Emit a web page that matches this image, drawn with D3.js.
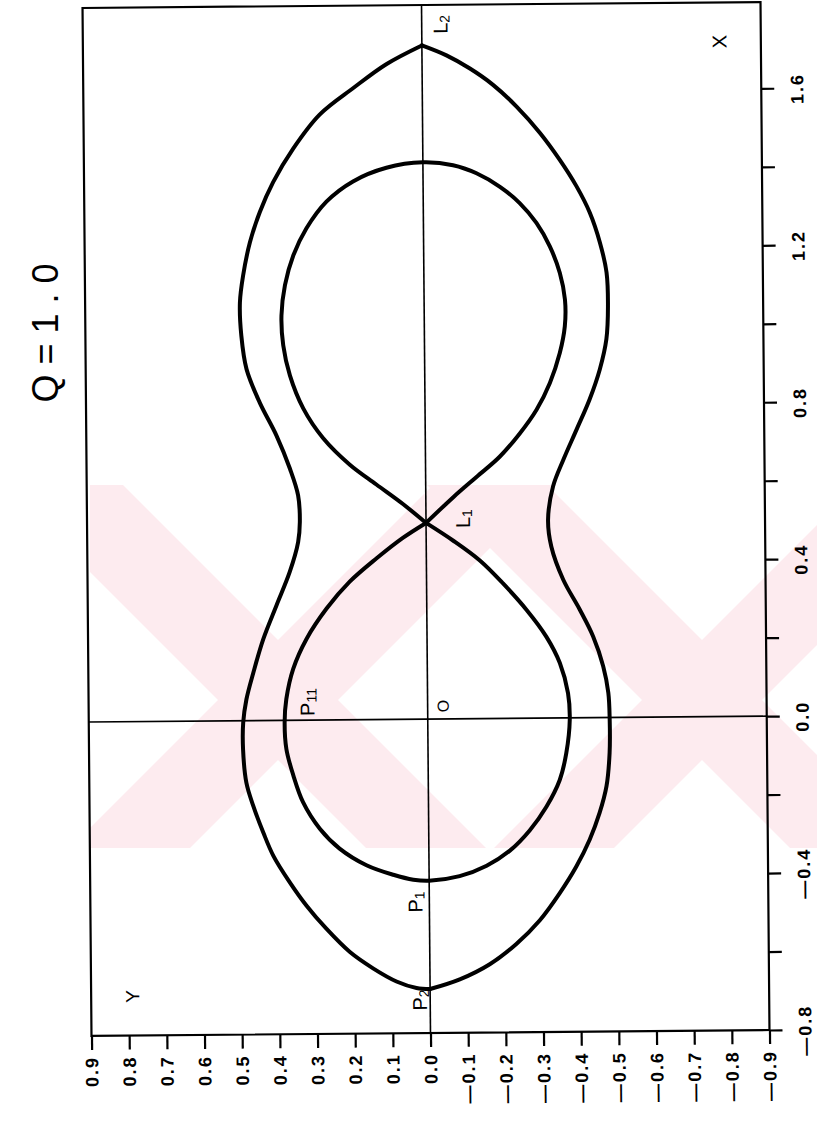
<!DOCTYPE html>
<html>
<head>
<meta charset="utf-8">
<script src="https://cdn.jsdelivr.net/npm/d3@7"></script>
<style>
  html, body { margin: 0; padding: 0; background: #fff; }
  svg { display: block; }
  text { font-family: "Liberation Sans", Arial, sans-serif; fill: #000; }
</style>
</head>
<body>
<svg id="chart" width="817" height="1121"></svg>
<script>
// Zero-velocity curves in the orbital plane for mass ratio Q = 1.0.
const titleText = "Q = 1 . 0";

// Axis ticks (X runs up the page, Y runs across it)
const xTicks = [-0.8, -0.6, -0.4, -0.2, 0.0, 0.2, 0.4, 0.6, 0.8, 1.0, 1.2, 1.4, 1.6];
const xTickLabels = [-0.8, -0.4, 0.0, 0.4, 0.8, 1.2, 1.6];
const yTicks = [0.9, 0.8, 0.7, 0.6, 0.5, 0.4, 0.3, 0.2, 0.1, 0.0,
                -0.1, -0.2, -0.3, -0.4, -0.5, -0.6, -0.7, -0.8, -0.9];

// Outer contour through L2 and P2, [x, y] pairs, y >= 0 branch (L2 -> P2)
const outerPositive = [
  [1.717, 0], [1.670, 0.095], [1.610, 0.183], [1.543, 0.273], [1.457, 0.344],
  [1.372, 0.398], [1.296, 0.434], [1.219, 0.461], [1.134, 0.480], [1.066, 0.489],
  [0.981, 0.486], [0.896, 0.473], [0.811, 0.439], [0.726, 0.395], [0.641, 0.360],
  [0.573, 0.339], [0.505, 0.335], [0.454, 0.340], [0.378, 0.363], [0.293, 0.399],
  [0.207, 0.435], [0.122, 0.462], [0.054, 0.481], [-0.005, 0.490], [-0.073, 0.491],
  [-0.158, 0.483], [-0.218, 0.465], [-0.286, 0.439], [-0.345, 0.413], [-0.413, 0.370],
  [-0.473, 0.326], [-0.532, 0.274], [-0.592, 0.212], [-0.634, 0.151], [-0.668, 0.089],
  [-0.685, 0.036], [-0.688, 0]
];
// Outer contour, y <= 0 branch (L2 -> P2)
const outerNegative = [
  [1.717, 0], [1.691, -0.065], [1.657, -0.127], [1.615, -0.188], [1.559, -0.250],
  [1.492, -0.311], [1.423, -0.363], [1.355, -0.407], [1.287, -0.442], [1.211, -0.468],
  [1.134, -0.485], [1.049, -0.488], [0.964, -0.483], [0.888, -0.465], [0.811, -0.437],
  [0.735, -0.402], [0.658, -0.366], [0.590, -0.338], [0.505, -0.324], [0.437, -0.332],
  [0.352, -0.363], [0.276, -0.406], [0.207, -0.441], [0.131, -0.467], [0.063, -0.480],
  [-0.005, -0.483], [-0.090, -0.482], [-0.175, -0.473], [-0.243, -0.454], [-0.311, -0.427],
  [-0.379, -0.391], [-0.447, -0.346], [-0.515, -0.293], [-0.575, -0.230], [-0.626, -0.159],
  [-0.664, -0.079], [-0.688, 0]
];
// Inner (critical) contour: lobe round the secondary, starting and ending at L1
const innerLobeSecondary = [
  [0.500, 0], [0.548, 0.060], [0.599, 0.131], [0.650, 0.201], [0.718, 0.271],
  [0.794, 0.323], [0.879, 0.358], [0.956, 0.375], [1.032, 0.379], [1.109, 0.369],
  [1.185, 0.346], [1.253, 0.311], [1.321, 0.257], [1.372, 0.186], [1.406, 0.097],
  [1.419, 0], [1.411, -0.080], [1.390, -0.142], [1.355, -0.204], [1.313, -0.256],
  [1.262, -0.300], [1.202, -0.335], [1.134, -0.361], [1.066, -0.374], [0.998, -0.373],
  [0.930, -0.359], [0.854, -0.332], [0.786, -0.296], [0.726, -0.251], [0.667, -0.197],
  [0.616, -0.135], [0.565, -0.073], [0.500, 0]
];
// Inner contour: lobe round the primary (through P11 and P1), L1 -> L1
const innerLobePrimary = [
  [0.500, 0], [0.463, 0.061], [0.411, 0.132], [0.352, 0.204], [0.284, 0.266],
  [0.207, 0.320], [0.131, 0.356], [0.054, 0.375], [-0.005, 0.380], [-0.073, 0.376],
  [-0.141, 0.358], [-0.209, 0.333], [-0.277, 0.289], [-0.328, 0.237], [-0.371, 0.166],
  [-0.396, 0.095], [-0.409, 0.042], [-0.412, 0], [-0.401, -0.081], [-0.375, -0.153],
  [-0.337, -0.215], [-0.286, -0.268], [-0.226, -0.313], [-0.158, -0.349], [-0.090, -0.367],
  [-0.005, -0.377], [0.063, -0.373], [0.140, -0.352], [0.207, -0.317], [0.276, -0.265],
  [0.344, -0.203], [0.403, -0.142], [0.454, -0.072], [0.500, 0]
];

// Point annotations: name, subscript, data position [x, y]
const pointNames = ["L", "L", "O", "P", "P", "P"];
const pointSubs  = ["2", "1", "", "11", "1", "2"];
const pointPos   = [[1.77, -0.05], [0.51, -0.098], [0.033, -0.04], [0.046, 0.319], [-0.466, 0.037], [-0.716, 0.027]];

const W = 817, H = 1121;
const svg = d3.select("#chart");
const defs = svg.append("defs");
svg.append("rect").attr("width", W).attr("height", H).attr("fill", "#fff");

// ---- background watermark (faint pink crossed bands) ----
defs.append("clipPath").attr("id", "wm-clip")
  .append("rect").attr("x", 90).attr("y", 485).attr("width", 727).attr("height", 363);
const wm = svg.append("g").attr("clip-path", "url(#wm-clip)");
function band(cx, cy, half, dir) {
  const L = 600;
  return [[cx - half - dir * L, cy - L], [cx + half - dir * L, cy - L],
          [cx + half + dir * L, cy + L], [cx - half + dir * L, cy + L]];
}
const wmCentres = [[278, 700], [702, 700]];
wmCentres.forEach(([cx, cy]) => {
  [1, -1].forEach(dir => {
    wm.append("polygon").attr("points", band(cx, cy, 60, dir).join(" "))
      .attr("fill", "#fdebef");
  });
});

// ---- plot ----
const plotLeft = 87, plotRight = 765, plotTop = 5, plotBottom = 1033;
const xScale = d3.scaleLinear().domain([-0.8, 1.82]).range([plotBottom, plotTop]);
const yScale = d3.scaleLinear().domain([0.9, -0.9]).range([plotLeft, plotRight]);

const plot = svg.append("g").attr("transform", "rotate(-0.5, 426, 519)");

// Frame
plot.append("rect")
  .attr("x", plotLeft).attr("y", plotTop)
  .attr("width", plotRight - plotLeft).attr("height", plotBottom - plotTop)
  .attr("fill", "none").attr("stroke", "#000").attr("stroke-width", 2.2);

// Coordinate axes through the origin
plot.append("line")
  .attr("x1", yScale(0)).attr("x2", yScale(0)).attr("y1", plotTop).attr("y2", plotBottom)
  .attr("stroke", "#000").attr("stroke-width", 1.6);
plot.append("line")
  .attr("x1", plotLeft).attr("x2", plotRight).attr("y1", xScale(0)).attr("y2", xScale(0))
  .attr("stroke", "#000").attr("stroke-width", 1.6);

const fmt = d => (d < 0 ? "\u2014" : "") + d3.format(".1f")(Math.abs(d));

// X axis on the right
const xAxis = d3.axisRight(xScale).tickValues(xTicks).tickSize(13).tickSizeOuter(0)
  .tickFormat(d => xTickLabels.some(v => Math.abs(v - d) < 1e-9) ? fmt(d) : "");
const gx = plot.append("g").attr("transform", `translate(${plotRight},0)`).call(xAxis);
gx.select(".domain").remove();
gx.selectAll(".tick line").attr("stroke", "#000").attr("stroke-width", 2.2);
gx.selectAll(".tick text")
  .attr("x", null).attr("dy", null)
  .attr("transform", "translate(36,0) rotate(-90)")
  .attr("text-anchor", "middle").attr("dominant-baseline", "central")
  .style("font-size", "18px").style("font-weight", "bold").style("letter-spacing", "2px");

// Y axis along the bottom
const yAxis = d3.axisBottom(yScale).tickValues(yTicks).tickSize(14).tickSizeOuter(0).tickFormat(fmt);
const gy = plot.append("g").attr("transform", `translate(0,${plotBottom})`).call(yAxis);
gy.select(".domain").remove();
gy.selectAll(".tick line").attr("stroke", "#000").attr("stroke-width", 2.2);
gy.selectAll(".tick text")
  .attr("y", null).attr("dy", null)
  .attr("transform", "translate(0,20) rotate(-90)")
  .attr("text-anchor", "end").attr("dominant-baseline", "central")
  .style("font-size", "18px").style("font-weight", "bold").style("letter-spacing", "2px");

// Contours
const line = d3.line()
  .x(d => yScale(d[1])).y(d => xScale(d[0]))
  .curve(d3.curveCatmullRom.alpha(0.5));
[outerPositive, outerNegative, innerLobeSecondary, innerLobePrimary].forEach(pts => {
  plot.append("path").attr("d", line(pts))
    .attr("fill", "none").attr("stroke", "#000")
    .attr("stroke-width", 4).attr("stroke-linejoin", "round").attr("stroke-linecap", "round");
});

// Point annotations
pointNames.forEach((name, i) => {
  const [px, py] = pointPos[i];
  const t = plot.append("text")
    .attr("transform", `translate(${yScale(py)},${xScale(px)}) rotate(-90)`)
    .attr("text-anchor", "middle").attr("dominant-baseline", "central")
    .style("font-size", name === "O" ? "16px" : "20px");
  t.append("tspan").text(name);
  if (pointSubs[i]) t.append("tspan").attr("dy", 4).style("font-size", "14px").text(pointSubs[i]);
});

// Axis names
plot.append("text")
  .attr("transform", `translate(${yScale(-0.79)},${xScale(1.72)}) rotate(-90)`)
  .attr("text-anchor", "middle").attr("dominant-baseline", "central")
  .style("font-size", "20px").text("X");
plot.append("text")
  .attr("transform", `translate(${yScale(0.79)},${xScale(-0.7)}) rotate(-90)`)
  .attr("text-anchor", "middle").attr("dominant-baseline", "central")
  .style("font-size", "19px").text("Y");

// Title
svg.append("text")
  .attr("transform", "translate(45,333) rotate(-90)")
  .attr("text-anchor", "middle").attr("dominant-baseline", "central")
  .style("font-size", "36px").style("font-weight", "300").text(titleText);
</script>
</body>
</html>
